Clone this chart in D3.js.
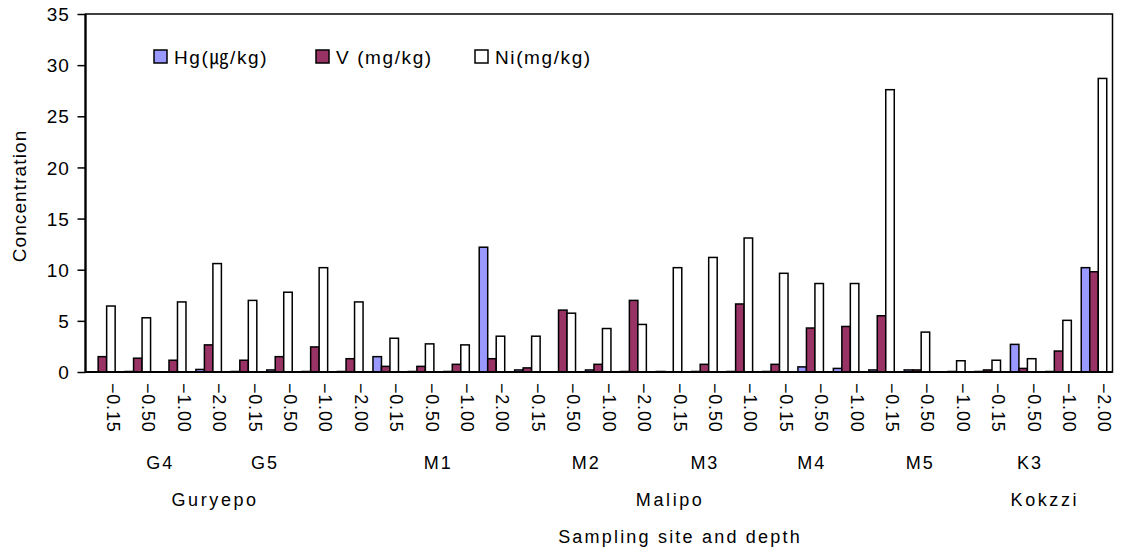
<!DOCTYPE html>
<html><head><meta charset="utf-8">
<script src="https://cdn.jsdelivr.net/npm/d3@7"></script>
<style>
body{margin:0;background:#fff}
text{font-family:"Liberation Sans","Noto Sans CJK KR",sans-serif;fill:#000}
</style>
</head><body>
<svg id="c" width="1123" height="552"></svg>
<script>
// ---- data ----
const depths = ["−0.15","−0.50","−1.00","−2.00","−0.15","−0.50","−1.00","−2.00",
  "−0.15","−0.50","−1.00","−2.00","−0.15","−0.50","−1.00","−2.00",
  "−0.15","−0.50","−1.00","−0.15","−0.50","−1.00","−0.15","−0.50","−1.00",
  "−0.15","−0.50","−1.00","−2.00"];
const hg = [0,0.05,0,0.25,0.05,0.2,0.05,0.05,1.5,0.05,0.05,12.2,0.2,0,0.2,0.05,
  0.05,0.05,0.05,0.05,0.5,0.35,0.2,0.2,0,0.05,2.7,0.05,10.2];
const v  = [1.5,1.35,1.15,2.65,1.15,1.5,2.45,1.3,0.55,0.55,0.75,1.3,0.4,6.05,0.75,7.0,
  0,0.75,6.65,0.75,4.3,4.45,5.5,0.2,0.05,0.2,0.35,2.05,9.8];
const ni = [6.45,5.3,6.85,10.6,7.0,7.8,10.2,6.85,3.3,2.75,2.65,3.5,3.5,5.75,4.25,4.65,
  10.2,11.2,13.1,9.65,8.65,8.65,27.6,3.9,1.1,1.15,1.3,5.05,28.7];
const seriesNames = ["Hg(㎍/kg)","V (mg/kg)","Ni(mg/kg)"];
const seriesColors = ["#9999FF","#993366","#FFFFFF"];
const sites = ["G4","G5","M1","M2","M3","M4","M5","K3"];
const areas = ["Guryepo","Malipo","Kokzzi"];
const yTicks = [0,5,10,15,20,25,30,35];
const xTitle = "Sampling site and depth";
const yTitle = "Concentration";

// ---- layout (category-unit positions for grouping labels) ----
const sitePos = [2.11,5.07,9.96,14.14,17.49,20.51,23.57,26.67];
const areaPos = [3.66,16.51,27.09];

const L=85.5, R=1112.5, T=14, B=372;
const svg = d3.select("#c");
const y = d3.scaleLinear().domain([0,35]).range([B,T]);
const x0 = d3.scaleBand().domain(d3.range(depths.length)).range([L,R]).padding(0);
const bw = x0.bandwidth();
const gw = bw*0.72;
const x1 = d3.scaleBand().domain([0,1,2]).range([(bw-gw)/2-0.8,(bw+gw)/2-0.8]);
const xu = d3.scaleLinear().domain([0,depths.length]).range([L,R]);
const data = [hg,v,ni];

// bars
data.forEach((arr,s)=>{
  svg.append("g").selectAll("rect").data(arr).join("rect")
    .attr("x",(d,i)=>x0(i)+x1(s))
    .attr("width",x1.bandwidth())
    .attr("y",d=>y(d))
    .attr("height",d=>B-y(d))
    .attr("fill",seriesColors[s])
    .attr("stroke","#000")
    .attr("stroke-width",d=>d>0?1.5:0);
});

// frame
svg.append("rect").attr("x",L).attr("y",T).attr("width",R-L).attr("height",B-T)
  .attr("fill","none").attr("stroke","#000").attr("stroke-width",1.5);
svg.append("line").attr("x1",L).attr("x2",L).attr("y1",T).attr("y2",B).attr("stroke","#000").attr("stroke-width",2.2);
svg.append("line").attr("x1",L).attr("x2",R).attr("y1",B).attr("y2",B).attr("stroke","#000").attr("stroke-width",2.2);

// y axis
const ya = svg.append("g").attr("transform",`translate(${L},0)`)
  .call(d3.axisLeft(y).tickValues(yTicks).tickSize(8).tickFormat(d3.format("d")));
ya.select(".domain").remove();
ya.selectAll("line").attr("stroke","#000").attr("stroke-width",1.5);
ya.selectAll("text").attr("font-size",19).attr("letter-spacing",0.8).attr("x",-16).attr("dy","0.35em")
  .style("font-family",'"Liberation Sans",sans-serif');

// x tick labels (rotated)
svg.append("g").selectAll("text").data(depths).join("text")
  .attr("transform",(d,i)=>`translate(${x0(i)+bw/2+10},383) rotate(90)`)
  .attr("dy","0.35em").attr("font-size",18).attr("letter-spacing",0.8)
  .text(d=>d);

// site labels
svg.append("g").selectAll("text").data(sites).join("text")
  .attr("x",(d,i)=>xu(sitePos[i])).attr("y",469)
  .attr("text-anchor","middle").attr("font-size",18).attr("letter-spacing",2)
  .text(d=>d);
svg.append("g").selectAll("text").data(areas).join("text")
  .attr("x",(d,i)=>xu(areaPos[i])).attr("y",506)
  .attr("text-anchor","middle").attr("font-size",18).attr("letter-spacing",2.6)
  .text(d=>d);
svg.append("text").attr("x",680).attr("y",543).attr("text-anchor","middle")
  .attr("font-size",18).attr("letter-spacing",2.2).text(xTitle);
svg.append("text").attr("transform","translate(19,196) rotate(-90)")
  .attr("text-anchor","middle").attr("dy","0.35em").attr("font-size",19)
  .attr("letter-spacing",1.1).text(yTitle);

// legend
const legX = [154,316,475];
const lg = svg.append("g").selectAll("g").data(seriesNames).join("g")
  .attr("transform",(d,i)=>`translate(${legX[i]},50)`);
lg.append("rect").attr("width",13).attr("height",13)
  .attr("fill",(d,i)=>seriesColors[i]).attr("stroke","#000").attr("stroke-width",1.5);
lg.append("text").attr("x",20).attr("y",7).attr("dy","0.35em").attr("font-size",19)
  .attr("letter-spacing",1.6).text(d=>d);
</script>
</body></html>
